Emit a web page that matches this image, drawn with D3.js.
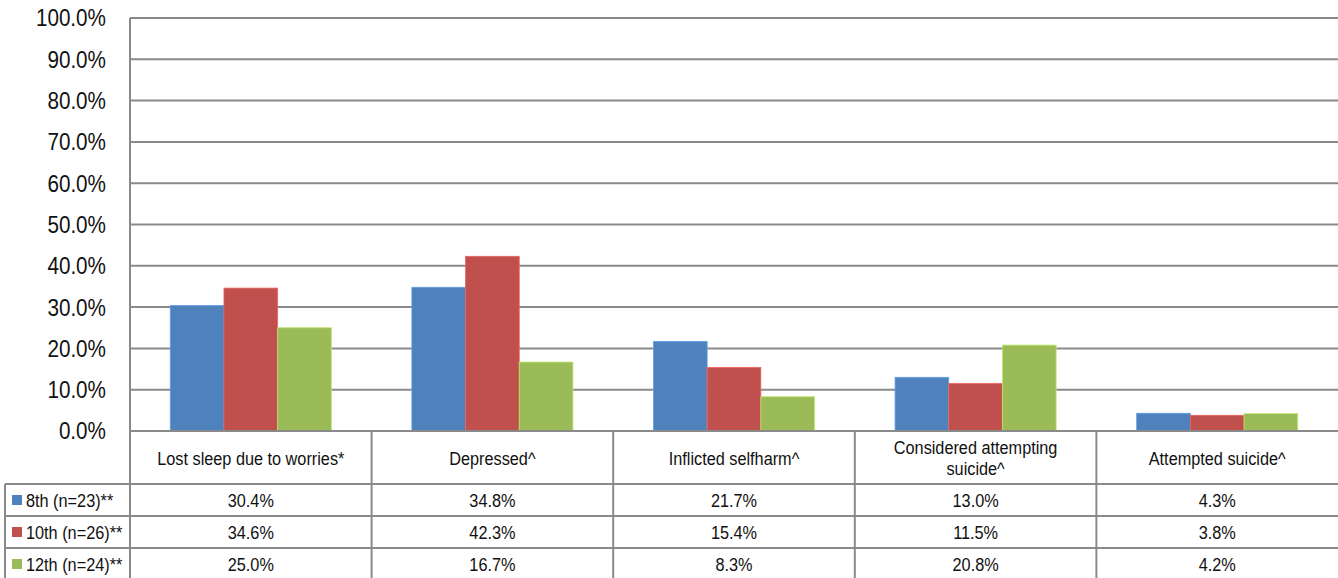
<!DOCTYPE html>
<html><head><meta charset="utf-8">
<script src="https://cdn.jsdelivr.net/npm/d3@7"></script>
<style>
html,body{margin:0;padding:0;background:#fff;}
svg{display:block;font-family:"Liberation Sans",Arial,sans-serif;}
</style></head><body>
<svg id="c" width="1338" height="578"></svg>
<script>
const categories = [["Lost sleep due to worries*"],["Depressed^"],["Inflicted selfharm^"],["Considered attempting","suicide^"],["Attempted suicide^"]];
const seriesNames = ["8th (n=23)**","10th (n=26)**","12th (n=24)**"];
const s8 = [30.4, 34.8, 21.7, 13.0, 4.3];
const s10 = [34.6, 42.3, 15.4, 11.5, 3.8];
const s12 = [25.0, 16.7, 8.3, 20.8, 4.2];
const colors = ["#4F81BD","#C0504D","#9BBB59"];
const yTicks = [0,10,20,30,40,50,60,70,80,90,100];

(function(){
const series = [s8, s10, s12];
const svg = d3.select("#c");
const pL = 130, pR = 1338, pT = 18, pB = 431;
const gridColor = "#8a8a8a";
const SX = 0.88;

function label(parent, px, py, txt, size, anchor){
  const g = parent.append("g").attr("transform", `translate(${px},${py}) scale(${SX},1)`);
  g.append("text").attr("x",0).attr("y",0).attr("dy","0.36em")
    .attr("text-anchor", anchor).attr("font-size", size).attr("fill","#111").text(txt);
  return g;
}

const x = d3.scaleBand().domain(d3.range(categories.length)).range([pL, pR]).paddingInner(0).paddingOuter(0);
const y = d3.scaleLinear().domain([0,100]).range([pB, pT]);
const bw = x.bandwidth()/4.5;

svg.append("g").selectAll("line").data(yTicks).join("line")
  .attr("x1", pL).attr("x2", pR)
  .attr("y1", d=>y(d)).attr("y2", d=>y(d))
  .attr("stroke", gridColor).attr("stroke-width", 2);

const yl = svg.append("g");
yTicks.forEach(t => label(yl, 106, y(t), t.toFixed(1)+"%", 23.5, "end"));

series.forEach((s, si) => {
  svg.append("g").selectAll("rect").data(s).join("rect")
    .attr("x", (d,i)=>x(i) + 0.75*bw + si*bw)
    .attr("y", d=>y(d))
    .attr("width", bw)
    .attr("height", d=>pB - y(d))
    .attr("fill", colors[si])
    .attr("stroke", d3.color(colors[si]).brighter(0.6))
    .attr("stroke-width", 0.8);
});

svg.append("line").attr("x1",pL).attr("x2",pR).attr("y1",pB).attr("y2",pB)
  .attr("stroke",gridColor).attr("stroke-width",2);
svg.append("line").attr("x1",pL).attr("x2",pL).attr("y1",pT).attr("y2",578)
  .attr("stroke",gridColor).attr("stroke-width",2);

const rowY = [484, 516, 548, 580];
const tableLeft = 5;
const tg = svg.append("g");
rowY.slice(0,3).forEach(ry => {
  tg.append("line").attr("x1",tableLeft).attr("x2",pR).attr("y1",ry).attr("y2",ry)
    .attr("stroke",gridColor).attr("stroke-width",2);
});
tg.append("line").attr("x1",tableLeft).attr("x2",tableLeft).attr("y1",rowY[0]).attr("y2",578)
  .attr("stroke",gridColor).attr("stroke-width",2);
d3.range(1, categories.length).forEach(i => {
  tg.append("line").attr("x1",x(i)).attr("x2",x(i)).attr("y1",pB).attr("y2",578)
    .attr("stroke",gridColor).attr("stroke-width",2);
});
categories.forEach((lines, i) => {
  const cx = x(i) + x.bandwidth()/2;
  const cy = (pB + rowY[0])/2;
  const n = lines.length;
  lines.forEach((l, li) => {
    label(tg, cx, cy + (li - (n-1)/2)*21 + 0.5, l, 18.5, "middle");
  });
});
series.forEach((s, si) => {
  const cy = (rowY[si] + rowY[si+1])/2;
  tg.append("rect").attr("x", 12).attr("y", cy-5).attr("width",10).attr("height",10).attr("fill",colors[si]);
  label(tg, 26, cy, seriesNames[si], 18.5, "start");
  s.forEach((v, i) => {
    label(tg, x(i)+x.bandwidth()/2, cy, v.toFixed(1)+"%", 18.5, "middle");
  });
});
})();
</script>
</body></html>
